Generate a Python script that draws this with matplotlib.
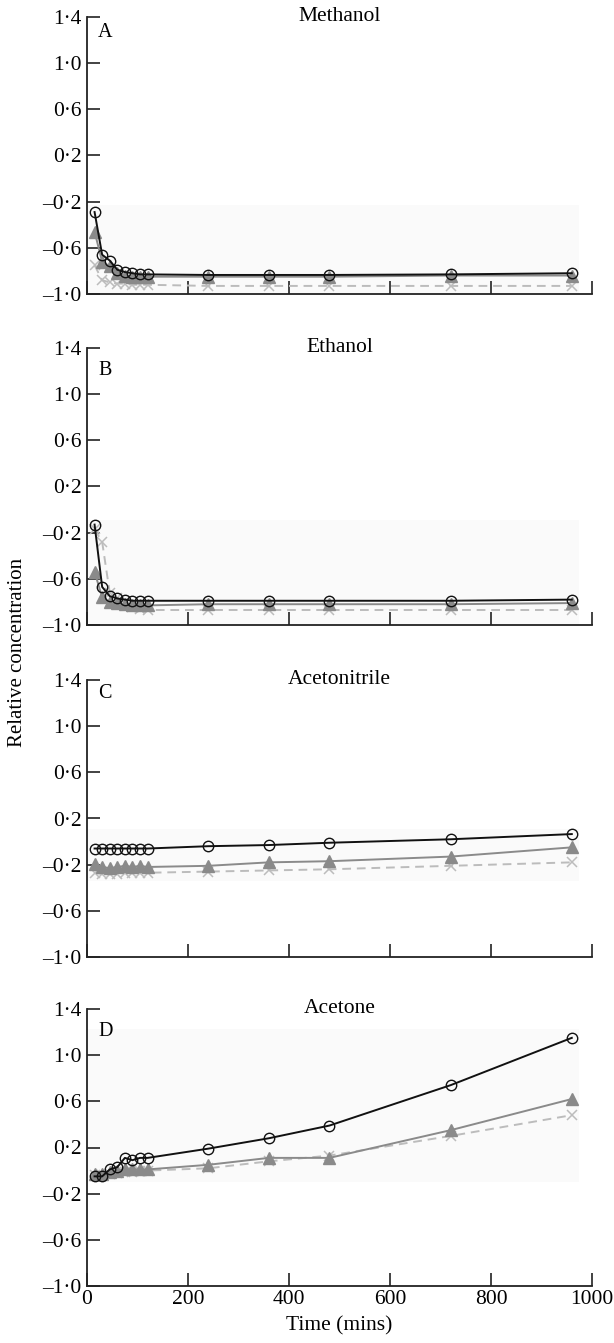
import matplotlib
matplotlib.use("Agg")
import matplotlib.pyplot as plt
from matplotlib.patches import Rectangle
from matplotlib.ticker import FixedLocator, FixedFormatter

plt.rcParams['font.family'] = ['Liberation Serif', 'DejaVu Serif']

# ---------------- data ----------------
times = [15, 30, 45, 60, 75, 90, 105, 120, 240, 360, 480, 720, 960]

panel_names = ["Methanol", "Ethanol", "Acetonitrile", "Acetone"]
panel_letters = ["A", "B", "C", "D"]

methanol_circle = [-0.29, -0.66, -0.71, -0.79, -0.81, -0.82, -0.83, -0.83, -0.835, -0.835, -0.835, -0.83, -0.82]
methanol_tri    = [-0.46, -0.72, -0.76, -0.82, -0.84, -0.85, -0.85, -0.85, -0.85, -0.85, -0.85, -0.84, -0.84]
methanol_x      = [-0.75, -0.88, -0.90, -0.91, -0.91, -0.92, -0.92, -0.92, -0.93, -0.93, -0.93, -0.93, -0.93]

ethanol_circle = [-0.13, -0.67, -0.75, -0.77, -0.78, -0.79, -0.79, -0.79, -0.79, -0.79, -0.79, -0.79, -0.78]
ethanol_tri    = [-0.54, -0.76, -0.80, -0.81, -0.82, -0.83, -0.83, -0.83, -0.82, -0.82, -0.82, -0.82, -0.81]
ethanol_x      = [-0.17, -0.28, -0.72, -0.77, -0.81, -0.84, -0.86, -0.87, -0.87, -0.87, -0.87, -0.87, -0.87]

acetonitrile_circle = [-0.06, -0.06, -0.06, -0.06, -0.06, -0.06, -0.06, -0.06, -0.04, -0.03, -0.01, 0.02, 0.065]
acetonitrile_tri    = [-0.19, -0.22, -0.23, -0.22, -0.21, -0.22, -0.21, -0.22, -0.21, -0.18, -0.17, -0.13, -0.05]
acetonitrile_x      = [-0.27, -0.28, -0.28, -0.28, -0.27, -0.27, -0.27, -0.27, -0.26, -0.25, -0.24, -0.21, -0.18]

acetone_circle = [-0.05, -0.05, 0.01, 0.03, 0.11, 0.09, 0.11, 0.11, 0.19, 0.28, 0.39, 0.74, 1.15]
acetone_tri    = [-0.03, -0.03, -0.01, 0.00, 0.01, 0.01, 0.01, 0.01, 0.05, 0.11, 0.11, 0.35, 0.62]
acetone_x      = [-0.04, -0.04, -0.03, -0.02, -0.01, -0.01, 0.00, 0.00, 0.02, 0.08, 0.13, 0.30, 0.48]

circle_series = [methanol_circle, ethanol_circle, acetonitrile_circle, acetone_circle]
tri_series = [methanol_tri, ethanol_tri, acetonitrile_tri, acetone_tri]
x_series = [methanol_x, ethanol_x, acetonitrile_x, acetone_x]

y_ticks = [-1.0, -0.6, -0.2, 0.2, 0.6, 1.0, 1.4]
y_tick_labels = ["\u20131\u00b70", "\u20130\u00b76", "\u20130\u00b72", "0\u00b72", "0\u00b76", "1\u00b70", "1\u00b74"]
x_ticks = [0, 200, 400, 600, 800, 1000]
x_tick_labels = ["0", "200", "400", "600", "800", "1000"]

# ---------------- layout (styles) ----------------
W, H = 614, 1343
fig = plt.figure(figsize=(W / 100, H / 100), dpi=100)
tops_px = [17, 348, 680, 1009]
ax_h_px = 277
left_px, ax_w_px = 87, 505
shade_boxes = [(-0.23, -1.0), (-0.09, -1.0), (0.11, -0.34), (1.226, -0.096)]
letter_drop_px = [20, 27, 18, 27]

fs_tick = 15.5
fs_title = 15.5

for i in range(4):
    top = tops_px[i]
    ax = fig.add_axes([left_px / W, 1 - (top + ax_h_px) / H, ax_w_px / W, ax_h_px / H])
    ax.set_xlim(0, 1000)
    ax.set_ylim(-1.0, 1.4)
    for s in ("top", "right"):
        ax.spines[s].set_visible(False)
    for s in ("left", "bottom"):
        ax.spines[s].set_linewidth(1.3)
        ax.spines[s].set_color("#222222")

    # faint background shading as in the scan
    st, sb = shade_boxes[i]
    ax.add_patch(Rectangle((0, sb), 975, st - sb, facecolor="#fafafa",
                           edgecolor="none", zorder=0))

    ax.plot(times, x_series[i], linestyle=(0, (4.5, 3)), color="#bcbcbc", lw=1.4,
            marker="x", ms=6.5, mew=1.1, mec="#bcbcbc", zorder=2)
    ax.plot(times, tri_series[i], linestyle="-", color="#8a8a8a", lw=1.4,
            marker="^", ms=8, mfc="#8a8a8a", mec="#8a8a8a", zorder=3)
    ax.plot(times, circle_series[i], linestyle="-", color="#111111", lw=1.4,
            marker="o", ms=7.5, mfc="none", mec="#111111", mew=1.0, zorder=4)

    ax.yaxis.set_major_locator(FixedLocator(y_ticks))
    ax.yaxis.set_major_formatter(FixedFormatter(y_tick_labels))
    ax.xaxis.set_major_locator(FixedLocator(x_ticks))
    ax.xaxis.set_major_formatter(FixedFormatter(x_tick_labels))
    ax.tick_params(axis="both", direction="in", length=9.5, width=1.2,
                   color="#222222", labelsize=fs_tick, pad=5)
    ax.tick_params(axis="y", pad=4)
    if i < 3:
        ax.tick_params(axis="x", labelbottom=False)
    else:
        ax.tick_params(axis="x", pad=3)

    ax.text(0.5, 1 - 4 / ax_h_px, panel_names[i], transform=ax.transAxes,
            ha="center", va="baseline", fontsize=fs_title)
    ax.text(11 / ax_w_px, 1 - letter_drop_px[i] / ax_h_px, panel_letters[i],
            transform=ax.transAxes, ha="left", va="baseline", fontsize=14.5)

    if i == 3:
        ax.set_xlabel("Time (mins)", fontsize=fs_tick, labelpad=5)

fig.text(18 / W, 1 - 652 / H, "Relative concentration", rotation=90,
         ha="center", va="center", fontsize=15)

fig.savefig("out.png", dpi=100)
